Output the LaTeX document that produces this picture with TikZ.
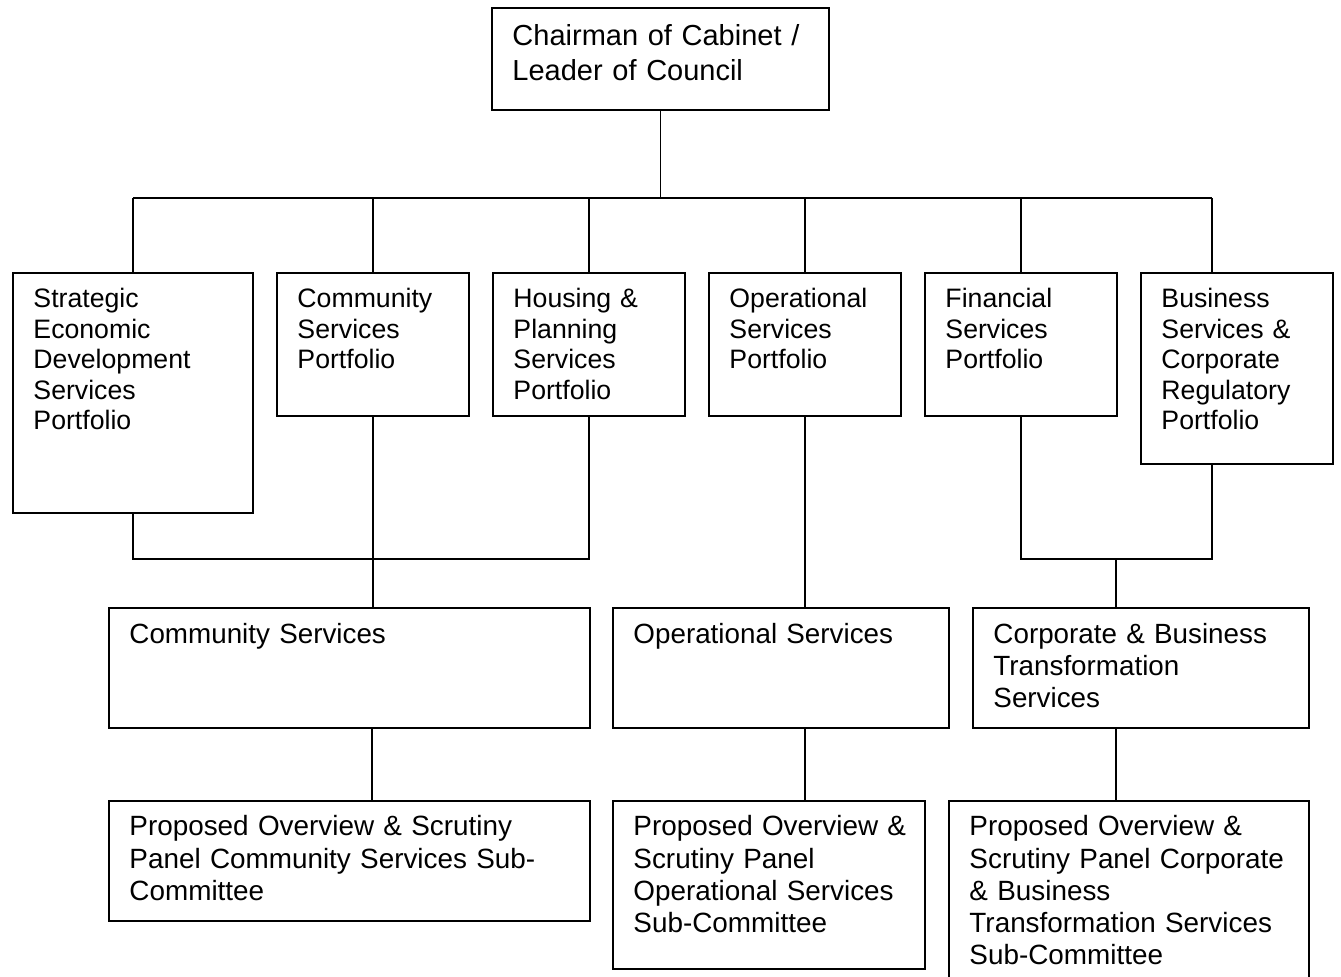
\documentclass[tikz,border=0pt]{standalone}
\usepackage{fontspec}
\setmainfont{Liberation Sans}
\usepackage{tikz}
\usetikzlibrary{positioning, calc}
\tikzstyle{unit} = [draw=black, line width=1.2pt, anchor=north west, align=left, inner xsep=15.5pt, inner ysep=0pt]
\tikzstyle{head} = [unit, font=\fontsize{21.75}{26.25}\selectfont, text height=28.5pt]
\tikzstyle{portfolio} = [unit, font=\fontsize{20}{22.8}\selectfont, text height=26.25pt, text width=113pt]
\tikzstyle{service} = [unit, font=\fontsize{20.85}{24}\selectfont, text height=27pt, text depth=63pt]
\tikzstyle{panel} = [unit, font=\fontsize{20.9}{24.2}\selectfont, text height=26.25pt]
\tikzstyle{link} = [line width=1.2pt]

\begin{document}
\begin{tikzpicture}[x=0.75pt, y=-0.75pt]
      \useasboundingbox (0,0) rectangle (1341,977);
      \clip (0,0) rectangle (1341,977);

      % Leader at the top
      \node[head, text width=221.75pt, text depth=48pt] (chair) at (491,7) {Chairman of Cabinet /\\Leader of Council};

      % Portfolios
      \node[portfolio, text width=149pt, text depth=153.75pt] (sed) at (12,272) {Strategic\\Economic\\Development\\Services\\Portfolio};
      \node[portfolio, text depth=81pt] (csp) at (276,272) {Community\\Services\\Portfolio};
      \node[portfolio, text depth=81pt] (hps) at (492,272) {Housing \&\\Planning\\Services\\Portfolio};
      \node[portfolio, text depth=81pt] (osp) at (708,272) {Operational\\Services\\Portfolio};
      \node[portfolio, text depth=81pt] (fsp) at (924,272) {Financial\\Services\\Portfolio};
      \node[portfolio, text depth=117pt] (bsp) at (1140,272) {Business\\Services \&\\Corporate\\Regulatory\\Portfolio};

      % Services
      \node[service, text width=329.75pt] (cs) at (108,607) {Community Services};
      \node[service, text width=221pt] (os) at (612,607) {Operational Services};
      \node[service, text width=221pt] (cbt) at (972,607) {Corporate \& Business\\Transformation\\Services};

      % Scrutiny panels
      \node[panel, text width=329.75pt, text depth=63.75pt] (pcs) at (108,800) {Proposed Overview \& Scrutiny\\Panel Community Services Sub-\\Committee};
      \node[panel, text width=203pt, text depth=99.75pt] (pos) at (612,800) {Proposed~Overview~\&\\Scrutiny Panel\\Operational~Services\\Sub-Committee};
      \node[panel, text width=239pt, text depth=140pt] (pcb) at (948,800) {Proposed Overview \&\\Scrutiny Panel Corporate\\\& Business\\Transformation Services\\Sub-Committee};

      % junction points
      \coordinate (bus) at (659,198);
      \coordinate (bsdrop) at (1212,198);
      \coordinate (lj) at (372,559);
      \coordinate (rj) at (1116,559);

      % top bus
      \draw[link] (chair.south) -- (chair.south |- bus);
      \draw[link] (sed.north |- bus) -- (bsdrop);
      \foreach \p in {sed, csp, hps, osp, fsp}
        \draw[link] (\p.north |- bus) -- (\p.north);
      \draw[link] (bsdrop) -- (bsdrop |- bsp.north);

      % left group
      \draw[link] (sed.south) |- (hps.south |- lj) -- (hps.south);
      \draw[link] (csp.south) -- (csp.south |- cs.north);
      \draw[link] (lj |- cs.south) -- (lj |- pcs.north);

      % middle group
      \draw[link] (osp.south) -- (osp.south |- os.north);
      \draw[link] (osp.south |- os.south) -- (osp.south |- pos.north);

      % right group
      \draw[link] (fsp.south) |- (bsdrop |- rj) -- (bsdrop |- bsp.south);
      \draw[link] (rj) -- (rj |- cbt.north);
      \draw[link] (rj |- cbt.south) -- (rj |- pcb.north);
    \end{tikzpicture}
\end{document}
